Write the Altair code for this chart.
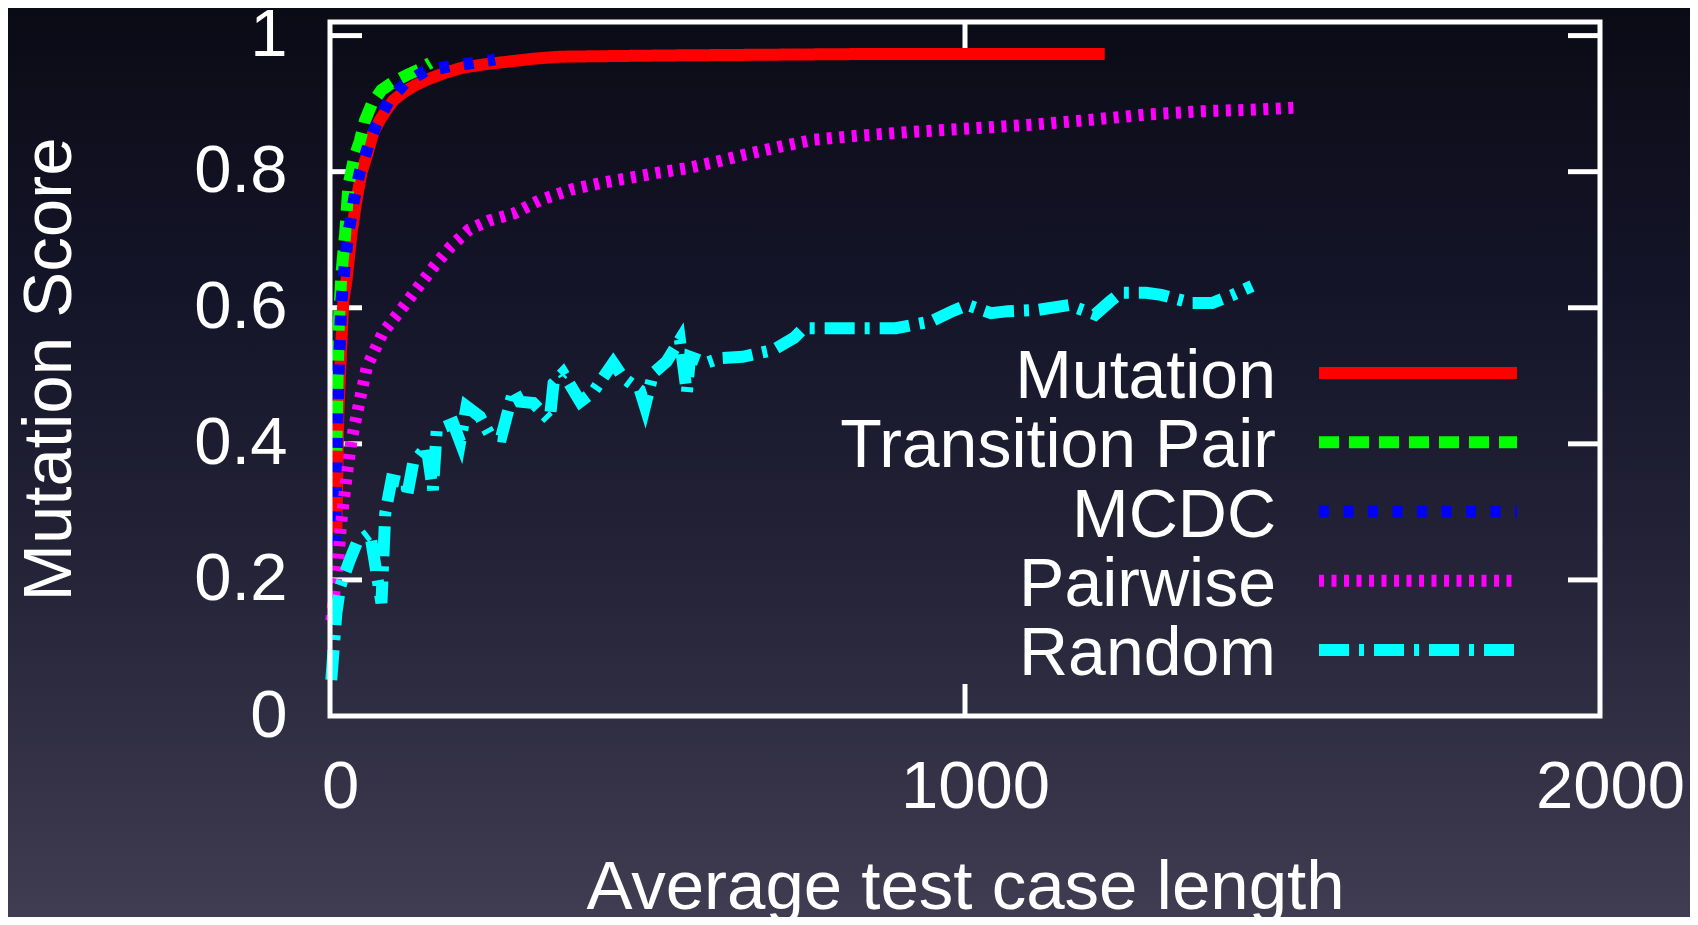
import altair as alt
import pandas as pd

# ---------------- data ----------------
series_names = ["Mutation", "Transition Pair", "MCDC", "Pairwise", "Random"]
series_colors = ["#ff0000", "#00ff00", "#0000ff", "#ff00ff", "#00ffff"]

mutation_x = [10, 13, 18, 21, 26, 34, 42, 50, 60, 68, 78, 89, 100, 115, 132, 152, 180, 209,
              245, 283, 320, 362, 450, 550, 700, 850, 1000, 1100, 1220]
mutation_y = [0.27, 0.44, 0.55, 0.61, 0.64, 0.71, 0.76, 0.80, 0.83, 0.857, 0.875, 0.891, 0.905,
              0.916, 0.926, 0.935, 0.945, 0.953, 0.958, 0.962, 0.966, 0.969, 0.970, 0.971,
              0.972, 0.973, 0.973, 0.973, 0.973]

transition_x = [10, 12, 14, 18, 24, 29, 38, 47, 55, 66, 81, 100, 121, 140, 158]
transition_y = [0.39, 0.50, 0.58, 0.65, 0.71, 0.78, 0.82, 0.845, 0.875, 0.90, 0.92, 0.932,
                0.942, 0.950, 0.960]

mcdc_x = [8, 10, 12, 15, 18, 23, 29, 38, 47, 60, 73, 92, 118, 150, 189, 226, 260]
mcdc_y = [0.25, 0.36, 0.45, 0.54, 0.61, 0.66, 0.71, 0.76, 0.80, 0.837, 0.869, 0.903, 0.93,
          0.948, 0.955, 0.960, 0.965]

pairwise_x = [2, 8, 13, 17, 26, 34, 47, 58, 83, 115, 140, 164, 190, 219, 250, 291, 330, 381,
              430, 472, 520, 562, 610, 653, 700, 761, 833, 924, 1014, 1105, 1195, 1286, 1376,
              1450, 1520]
pairwise_y = [0.14, 0.19, 0.23, 0.278, 0.351, 0.406, 0.465, 0.513, 0.563, 0.601, 0.632, 0.661,
              0.69, 0.715, 0.728, 0.739, 0.758, 0.774, 0.784, 0.791, 0.799, 0.805, 0.815, 0.825,
              0.835, 0.847, 0.853, 0.859, 0.864, 0.869, 0.876, 0.884, 0.889, 0.891, 0.894]

random_x = [2, 10, 16, 31, 42, 63, 81, 87, 97, 121, 121, 131, 152, 162, 168, 194, 205, 215,
            236, 252, 270, 289, 299, 320, 346, 352, 367, 394, 415, 446, 462, 488, 496, 509,
            530, 551, 562, 567, 593, 614, 650, 698, 731, 746, 827, 891, 947, 980, 1004, 1041,
            1068, 1116, 1164, 1205, 1228, 1245, 1285, 1309, 1357, 1389, 1422, 1452]
random_y = [0.053, 0.151, 0.19, 0.229, 0.254, 0.269, 0.166, 0.298, 0.347, 0.342, 0.322, 0.372,
            0.396, 0.332, 0.42, 0.43, 0.403, 0.455, 0.44, 0.413, 0.411, 0.479, 0.462, 0.46,
            0.435, 0.489, 0.504, 0.462, 0.477, 0.519, 0.497, 0.479, 0.455, 0.504, 0.521, 0.553,
            0.475, 0.528, 0.519, 0.526, 0.528, 0.538, 0.556, 0.57, 0.57, 0.57, 0.58, 0.595,
            0.604, 0.592, 0.595, 0.597, 0.604, 0.59, 0.609, 0.622, 0.622, 0.619, 0.607, 0.607,
            0.619, 0.632]

x_ticks = [0, 1000, 2000]
y_ticks = [0, 0.2, 0.4, 0.6, 0.8, 1.0]
inner_x_ticks = [1000]
inner_y_ticks = [0.2, 0.4, 0.6, 0.8, 1.0]

# ---------------- build tables ----------------
all_x = [mutation_x, transition_x, mcdc_x, pairwise_x, random_x]
all_y = [mutation_y, transition_y, mcdc_y, pairwise_y, random_y]
rows = []
for name, xs, ys in zip(series_names, all_x, all_y):
    for i, (xv, yv) in enumerate(zip(xs, ys)):
        rows.append({"series": name, "x": xv, "y": yv, "i": i})
df = pd.DataFrame(rows)
legend_df = pd.DataFrame({"series": series_names})
one_df = pd.DataFrame({"k": [0]})

# ---------------- styling ----------------
W, H = 1270, 694
PAD_L, PAD_T, PAD_R, PAD_B = 322, 14, 90, 201
FONT = "Liberation Sans"
TICK = 32
dashes = [[1, 0], [20, 10], [10, 14.5], [5, 7.5], [30, 10, 5, 10]]

xscale = alt.Scale(domain=[0, 2000], nice=False, zero=False)
yscale = alt.Scale(domain=[0, 1.02], nice=False, zero=False)
color_scale = alt.Scale(domain=series_names, range=series_colors)
dash_scale = alt.Scale(domain=series_names, range=dashes)

gradient = {
    "gradient": "linear", "x1": 0, "y1": 0, "x2": 0, "y2": 1,
    "stops": [
        {"offset": 0, "color": "#0b0b16"},
        {"offset": 0.3, "color": "#141428"},
        {"offset": 0.6, "color": "#232236"},
        {"offset": 1, "color": "#403c51"},
    ],
}

x_axis = alt.Axis(
    values=x_ticks, format="d", title="Average test case length", grid=False, domain=False,
    ticks=False, labelFont=FONT, labelFontSize=67, labelColor="white",
    labelPadding=38, labelOffset=10, labelFlush=False, labelOverlap=False,
    titleFont=FONT, titleFontSize=69, titleColor="white", titleFontWeight="normal",
    titleBaseline="alphabetic", titleY=192, titleX=W / 2, zindex=1,
)
y_axis = alt.Axis(
    values=y_ticks, format="~g", title="Mutation Score", grid=False, domain=False,
    ticks=False, labelFont=FONT, labelFontSize=67, labelColor="white",
    labelPadding=43, labelFlush=False, labelOverlap=False,
    titleFont=FONT, titleFontSize=69, titleColor="white", titleFontWeight="normal",
    titleAngle=270, titleBaseline="alphabetic", titleAlign="center",
    titleX=-260, titleY=H / 2, zindex=1,
)

# background gradient covering the whole canvas
background = alt.Chart(one_df).mark_rect(color=gradient, clip=False).encode(
    x=alt.value(-PAD_L), x2=alt.value(W + PAD_R),
    y=alt.value(-PAD_T), y2=alt.value(H + PAD_B),
)

# the axes are carried by an invisible point layer
axis_layer = alt.Chart(one_df).mark_point(opacity=0).encode(
    x=alt.X("k:Q", scale=xscale, axis=x_axis),
    y=alt.Y("k:Q", scale=yscale, axis=y_axis),
)

ytick_df = pd.DataFrame({"v": inner_y_ticks})
xtick_df = pd.DataFrame({"v": inner_x_ticks})
tick_style = dict(color="white", strokeWidth=5)
ticks_left = alt.Chart(ytick_df).mark_rule(**tick_style).encode(
    y=alt.Y("v:Q", scale=yscale, axis=None), x=alt.value(0), x2=alt.value(TICK))
ticks_right = alt.Chart(ytick_df).mark_rule(**tick_style).encode(
    y=alt.Y("v:Q", scale=yscale, axis=None), x=alt.value(W - TICK), x2=alt.value(W))
ticks_bottom = alt.Chart(xtick_df).mark_rule(**tick_style).encode(
    x=alt.X("v:Q", scale=xscale, axis=x_axis), y=alt.value(H - TICK), y2=alt.value(H))
ticks_top = alt.Chart(xtick_df).mark_rule(**tick_style).encode(
    x=alt.X("v:Q", scale=xscale, axis=x_axis), y=alt.value(0), y2=alt.value(TICK))

line_layers = []
for name in series_names:
    line_layers.append(
        alt.Chart(df).transform_filter(alt.datum.series == name)
        .mark_line(strokeWidth=12, strokeJoin="miter", strokeCap="butt")
        .encode(
            x=alt.X("x:Q", scale=xscale, axis=x_axis),
            y=alt.Y("y:Q", scale=yscale, axis=None),
            color=alt.Color("series:N", scale=color_scale, legend=None),
            strokeDash=alt.StrokeDash("series:N", scale=dash_scale, legend=None),
            order="i:Q",
        )
    )

frame = alt.Chart(one_df).mark_rect(filled=False, stroke="white", strokeWidth=5).encode(
    x=alt.value(0), x2=alt.value(W), y=alt.value(0), y2=alt.value(H))

legend_y = alt.Y("series:N", sort=series_names,
                 scale=alt.Scale(type="point", range=[351, 628], padding=0), axis=None)
legend_text = alt.Chart(legend_df).mark_text(
    font=FONT, fontSize=68, color="white", align="right", baseline="alphabetic", dy=25
).encode(y=legend_y, x=alt.value(946), text="series:N")
legend_lines = alt.Chart(legend_df).mark_rule(strokeWidth=12, strokeCap="butt").encode(
    y=legend_y, x=alt.value(989), x2=alt.value(1187),
    color=alt.Color("series:N", scale=color_scale, legend=None),
    strokeDash=alt.StrokeDash("series:N", scale=dash_scale, legend=None),
)

chart = alt.layer(
    background, axis_layer, ticks_left, ticks_right, ticks_bottom, ticks_top,
    *line_layers, frame, legend_text, legend_lines,
).resolve_scale(y="independent").properties(
    width=W, height=H,
    autosize=alt.AutoSizeParams(type="none"),
    padding={"left": PAD_L, "top": PAD_T, "right": PAD_R, "bottom": PAD_B},
    background="#1a1a2c",
).configure_view(stroke=None)

chart.save("out.html", embed_options={"renderer": "svg", "actions": False})
